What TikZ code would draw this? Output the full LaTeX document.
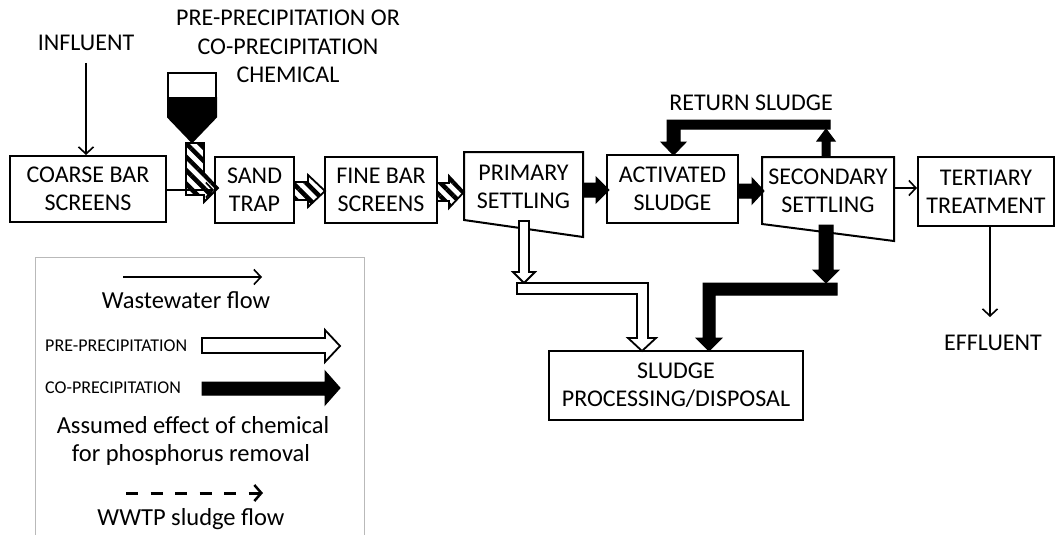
\documentclass[tikz,border=0pt]{standalone}
\usepackage{fontspec}
\setmainfont{Carlito}
\usetikzlibrary{arrows.meta,patterns.meta,calc}
\begin{document}
\begin{tikzpicture}[x=1pt,y=-1pt,
  box/.style={draw, line width=2pt, align=center, inner sep=0pt, font=\fontsize{24}{28}\selectfont},
  lbl/.style={align=center, inner sep=0pt, font=\fontsize{24}{28.5}\selectfont},
  leg/.style={inner sep=0pt, anchor=base, font=\fontsize{24.5}{28}\selectfont},
  small/.style={inner sep=0pt, anchor=base west, font=\fontsize{18}{20}\selectfont},
  thinarrow/.style={line width=1.6pt, -{Straight Barb[length=7pt,width=15pt,line width=1.6pt]}},
  blk/.style={fill=black, draw=black, line width=1pt, line join=miter},
  wht/.style={fill=white, draw=black, line width=1.8pt, line join=miter},
  hatch/.style={draw=black, line width=1.8pt, line join=miter, pattern={Lines[angle=-45,distance=9.5pt,line width=4.5pt]}},
  trap/.style={draw, line width=2pt, line join=miter}
]
\useasboundingbox (0,0) rectangle (1057,535);

% ---- process boxes
\node[box, minimum width=156pt, minimum height=66pt] (coarse) at (88,189) {COARSE BAR\\SCREENS};
\node[box, minimum width=79pt, minimum height=66pt] (sand) at (254.5,190) {SAND\\TRAP};
\node[box, minimum width=112pt, minimum height=66pt] (fine) at (381,190) {FINE BAR\\SCREENS};
\node[box, minimum width=131pt, minimum height=68pt] (act) at (672.5,189) {ACTIVATED\\SLUDGE};
\node[box, minimum width=136pt, minimum height=69pt] (tert) at (986,191.5) {TERTIARY\\TREATMENT};
\node[box, minimum width=254pt, minimum height=69pt] (sludge) at (676,385.5) {SLUDGE\\PROCESSING/DISPOSAL};

% trapezoid settlers
\draw[trap] (464,152) -- (583,152) -- (583,237) -- (464,220) -- cycle;
\node[lbl, font=\fontsize{24}{28}\selectfont] (prim) at (523.5,187) {PRIMARY\\SETTLING};
\draw[trap] (762,157) -- (894,157) -- (894,241) -- (762,224) -- cycle;
\node[lbl, font=\fontsize{24}{28}\selectfont] (sec) at (828,191) {SECONDARY\\SETTLING};

% ---- labels
\node[lbl] (infl) at (86,43) {INFLUENT};
\node[lbl] (chem) at (288,46.5) {PRE-PRECIPITATION OR\\CO-PRECIPITATION\\CHEMICAL};
\node[lbl] (ret) at (751,103) {RETURN SLUDGE};
\node[lbl] (eff) at (993,343) {EFFLUENT};

% ---- thin arrows
\coordinate (inTop) at (86,63);
\draw[thinarrow] (inTop) -- (inTop |- coarse.north);
\draw[thinarrow] (coarse.east |- 0,190) -- (sand.west |- 0,190);
\draw[thinarrow] (894,188) -- (tert.west |- 0,188);
\coordinate (effEnd) at (990,317);
\draw[thinarrow] (tert.south -| effEnd) -- (effEnd);

% ---- hopper and hatched pipe
\draw[line width=2pt, fill=white] (168,73) rectangle (216,98);
\filldraw[line width=2pt, line join=miter] (168,98) -- (216,98) -- (216,117) -- (192,142) -- (168,117) -- cycle;
\draw[hatch] (186,143) -- (204,143) -- (204,173) -- (218,188) -- (204,202) -- (204,195) -- (186,195) -- cycle;

% ---- hatched arrows
\draw[hatch] (294,182) -- (308,182) -- (308,175) -- (325,191) -- (308,207) -- (308,200) -- (294,200) -- cycle;
\draw[hatch] (437,183) -- (449,183) -- (449,176) -- (464,192) -- (449,208) -- (449,201) -- (437,201) -- cycle;

% ---- black (co-precipitation) arrows
\draw[blk] (583,183) -- (596,183) -- (596,177) -- (609,190) -- (596,203) -- (596,197) -- (583,197) -- cycle;
\draw[blk] (738,184) -- (752,184) -- (752,178) -- (764,191) -- (752,204) -- (752,198) -- (738,198) -- cycle;
% return sludge
\draw[blk] (822,157) -- (822,141) -- (817,141) -- (826,129) -- (835,141) -- (830,141) -- (830,157) -- cycle;
\draw[blk] (830,120) -- (830,129) -- (680,129) -- (680,142) -- (686,142) -- (673.5,155) -- (661,142) -- (667,142) -- (667,120) -- cycle;
% secondary to sludge
\draw[blk] (819,225) -- (833,225) -- (833,270) -- (839,270) -- (826,283) -- (813,270) -- (819,270) -- cycle;
\draw[blk] (837,283) -- (837,295) -- (715,295) -- (715,338) -- (722,338) -- (709,351) -- (696,338) -- (703,338) -- (703,283) -- cycle;

% ---- white (pre-precipitation) arrows
\draw[wht] (519,221) -- (529,221) -- (529,272) -- (535,272) -- (524,283) -- (513,272) -- (519,272) -- cycle;
\draw[wht] (517,283) -- (648,283) -- (648,338) -- (656,338) -- (642,351) -- (628,338) -- (637,338) -- (637,294) -- (517,294) -- cycle;

% ---- legend
\draw[gray!55, line width=1pt] (35,535) -- (35,257) -- (364,257) -- (364,535);
\coordinate (la1) at (123,277); \coordinate (la2) at (262,277);
\draw[thinarrow] (la1) -- (la2);
\node[leg] (lww) at (186,308) {Wastewater flow};
\node[small] (lpre) at (45,351) {PRE-PRECIPITATION};
\draw[wht] (202,338) -- (325,338) -- (325,330) -- (340,346) -- (325,362) -- (325,353) -- (202,353) -- cycle;
\node[small] (lco) at (45,393) {CO-PRECIPITATION};
\draw[blk] (202,382) -- (325,382) -- (325,371) -- (340,388) -- (325,405) -- (325,395) -- (202,395) -- cycle;
\node[leg] (lass) at (193,433) {Assumed effect of chemical};
\node[leg] (lfor) at (191,461) {for phosphorus removal};
\coordinate (ld1) at (126,493); \coordinate (ld2) at (263,493);
\draw[line width=3pt, dash pattern=on 12pt off 12.5pt, -{Straight Barb[length=7pt,width=16pt,line width=2.5pt]}] (ld1) -- (ld2);
\node[leg] (lwwtp) at (191,525) {WWTP sludge flow};
\end{tikzpicture}
\end{document}
